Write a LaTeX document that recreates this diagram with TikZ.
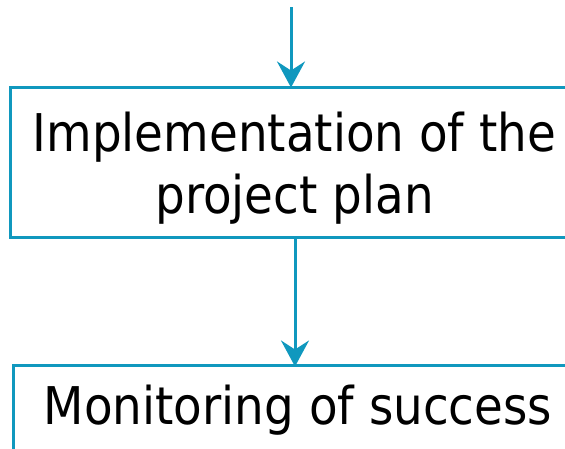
\documentclass[tikz,border=0pt]{standalone}
\usepackage{fontspec}
\setmainfont{DejaVu Sans}[FakeStretch=0.9]
\usetikzlibrary{arrows.meta}
\definecolor{flowblue}{RGB}{16,152,190}
\tikzset{
  flowbox/.style={draw=flowblue, line width=3pt, rectangle, inner sep=0pt},
  flowtext/.style={anchor=base, inner sep=0pt, font=\fontsize{52}{62}\selectfont},
  flowarrow/.style={draw=flowblue, line width=3pt, -{Stealth[length=26pt,width=28pt,inset=9pt]}}
}
\begin{document}
\begin{tikzpicture}[x=1pt,y=1pt]
\useasboundingbox (0,0) rectangle (565,-448);
\clip (0,0) rectangle (565,-448);
\node[flowbox, minimum width=569pt, minimum height=150pt] (box1) at (294.5,-162) {};
\node[flowbox, minimum width=570pt, minimum height=150pt] (box2) at (298,-440) {};
\node[flowtext] (t1) at (294.5,-151) {Implementation of the};
\node[flowtext] (t2) at (294.5,-213) {project plan};
\node[flowtext] (t3) at (298,-424) {Monitoring of success};
\coordinate (start) at (291,-7);
\coordinate (x2) at (295,0);
\draw[flowarrow] (start) -- ([yshift=-2pt]start |- box1.north);
\draw[flowarrow] (box1.south -| x2) -- ([yshift=-3pt]box2.north -| x2);
\end{tikzpicture}
\end{document}
